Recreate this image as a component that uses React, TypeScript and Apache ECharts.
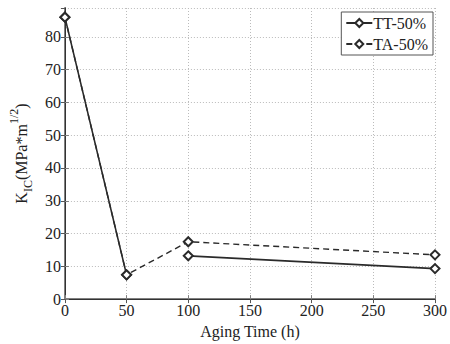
import React, { useEffect, useRef } from "react";
import * as echarts from "echarts";

const xTicks = [0, 50, 100, 150, 200, 250, 300];
const ttName = "TT-50%";
const taName = "TA-50%";
const ttData: (number | string)[][] = [
  [0, 86],
  [50, 7.4],
  [75, "-"],
  [100, 13.2],
  [300, 9.3],
];
const taData: number[][] = [
  [0, 86],
  [50, 7.4],
  [100, 17.5],
  [300, 13.5],
];

const FONT = "Liberation Serif";

export default function App() {
  const ref = useRef<HTMLDivElement>(null);
  useEffect(() => {
    if (!ref.current) return;
    const chart = echarts.init(ref.current, undefined, { renderer: "svg" });
    const lineColor = "#2a2a2a";
    chart.setOption({
      animation: false,
      backgroundColor: "#fff",
      textStyle: { fontFamily: FONT },
      grid: { left: 63, right: 15, top: 8, bottom: 38, containLabel: false },
      legend: {
        data: [ttName, taName],
        orient: "vertical",
        right: 17,
        top: 12,
        itemWidth: 26,
        itemHeight: 10,
        itemGap: 5,
        padding: [3, 5, 3, 4],
        borderColor: "#555",
        borderWidth: 1,
        backgroundColor: "#fff",
        textStyle: { fontFamily: FONT, fontSize: 16, color: "#222", padding: [0, 0, 0, -4] },
      },
      xAxis: [
        {
          type: "value",
          min: 0,
          max: 300,
          interval: 50,
          name: "Aging Time (h)",
          nameLocation: "middle",
          nameGap: 21,
          nameTextStyle: { fontFamily: FONT, fontSize: 16, color: "#222" },
          axisLine: { show: true, lineStyle: { color: "#808080", width: 2 } },
          axisTick: { show: true, inside: true, length: 4, lineStyle: { color: "#808080" } },
          axisLabel: { fontFamily: FONT, fontSize: 16, color: "#222", margin: 3 },
          splitLine: { show: true, lineStyle: { type: [1, 2], color: "#bbb", width: 1 } },
        },
        {
          type: "value",
          position: "top",
          min: 0,
          max: 300,
          interval: 50,
          axisLine: { show: true, lineStyle: { color: "#333", width: 1 } },
          axisTick: { show: true, inside: true, length: 4, lineStyle: { color: "#555" } },
          axisLabel: { show: false },
          splitLine: { show: false },
        },
      ],
      yAxis: [
        {
          type: "value",
          min: 0,
          max: 88.8,
          interval: 10,
          name: "{k|K}{s|IC}{k|(MPa*m}{p|1/2}{k|)}",
          nameLocation: "middle",
          nameGap: 19,
          nameRotate: 90,
          nameTextStyle: {
            fontFamily: FONT,
            color: "#222",
            rich: {
              k: { fontFamily: FONT, fontSize: 16, color: "#222", verticalAlign: "middle", lineHeight: 26 },
              s: { fontFamily: FONT, fontSize: 12, color: "#222", verticalAlign: "bottom", lineHeight: 26 },
              p: { fontFamily: FONT, fontSize: 12, color: "#222", verticalAlign: "top", lineHeight: 26 },
            },
          },
          axisLine: { show: true, lineStyle: { color: "#808080", width: 2 } },
          axisTick: { show: true, inside: true, length: 4, lineStyle: { color: "#808080" } },
          axisLabel: { fontFamily: FONT, fontSize: 16, color: "#222", margin: 4, showMaxLabel: false },
          splitLine: { show: true, lineStyle: { type: [1, 2], color: "#bbb", width: 1 } },
        },
        {
          type: "value",
          position: "right",
          min: 0,
          max: 88.8,
          interval: 10,
          axisLine: { show: true, lineStyle: { color: "#333", width: 1 } },
          axisTick: { show: true, inside: true, length: 4, lineStyle: { color: "#555" } },
          axisLabel: { show: false },
          splitLine: { show: false },
        },
      ],
      series: [
        {
          name: ttName,
          type: "line",
          data: ttData,
          symbol: "emptyDiamond",
          symbolSize: 9,
          connectNulls: false,
          lineStyle: { color: lineColor, width: 1.6, type: "solid" },
          itemStyle: { color: lineColor, borderColor: lineColor, borderWidth: 1.5 },
        },
        {
          name: taName,
          type: "line",
          data: taData,
          symbol: "emptyDiamond",
          symbolSize: 9,
          lineStyle: { color: lineColor, width: 1.4, type: [6, 4] },
          itemStyle: { color: lineColor, borderColor: lineColor, borderWidth: 1.5 },
        },
      ],
    });
    return () => chart.dispose();
  }, []);
  return (
    <div
      ref={ref}
      style={{ position: "fixed", left: 0, top: 0, width: 450, height: 344, background: "#fff" }}
    />
  );
}
